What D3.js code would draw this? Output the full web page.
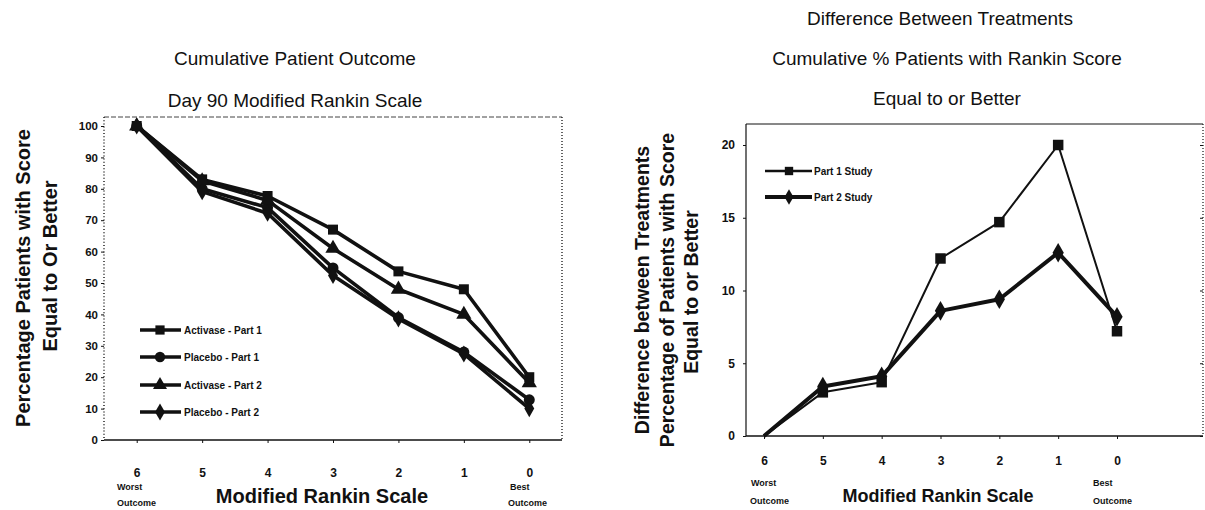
<!DOCTYPE html>
<html>
<head>
<meta charset="utf-8">
<script src="https://cdnjs.cloudflare.com/ajax/libs/d3/7.8.5/d3.min.js"></script>
<style>
body{margin:0;background:#fff}
svg{font-family:"Liberation Sans",Arial,sans-serif}
</style>
</head>
<body>
<div id="chart"></div>
<script>
// values
var scores = [6,5,4,3,2,1,0]
var activase1 = [100, 83, 77.7, 67, 53.7, 48, 20]
var placebo1  = [100, 80, 74, 54.8, 39, 28, 12.8]
var activase2 = [100, 82.5, 76.3, 61, 48, 40, 18.2]
var placebo2  = [100, 79.1, 72.2, 52.4, 38.6, 27.4, 10]
var part1Diff = [0, 3.0, 3.7, 12.2, 14.7, 20.0, 7.2]
var part2Diff = [0, 3.4, 4.1, 8.6, 9.4, 12.6, 8.2]
var leftTicks = [0,10,20,30,40,50,60,70,80,90,100]
var rightTicks = [0,5,10,15,20]
var leftNames = ["Activase - Part 1","Placebo - Part 1","Activase - Part 2","Placebo - Part 2"]
var rightNames = ["Part 1 Study","Part 2 Study"]

var ink = "#111"
var svg = d3.select("#chart").append("svg")
    .attr("width", 1205)
    .attr("height", 510)

function label(txt, x, y, size, weight, anchor, rot){
  var t = svg.append("text")
    .text(txt)
    .attr("font-size", size)
    .attr("font-weight", weight)
    .attr("text-anchor", anchor || "middle")
    .attr("fill", ink)
  if(rot){
    t.attr("transform", "translate("+x+","+y+") rotate(-90)")
  } else {
    t.attr("x", x).attr("y", y)
  }
  return t
}

function drawSeries(x, y, vals, sym, symSize, lw, skipZero){
  var pts = scores.map(function(s,i){ return [s, vals[i]] })
  var line = d3.line()
    .x(function(d){ return x(d[0]) })
    .y(function(d){ return y(d[1]) })
  svg.append("path")
    .datum(pts)
    .attr("d", line)
    .attr("fill", "none")
    .attr("stroke", ink)
    .attr("stroke-width", lw)
    .attr("stroke-linejoin", "round")
  svg.append("g").selectAll("path")
    .data(pts.filter(function(d){ return !(skipZero && d[1]==0) }))
    .enter()
    .append("path")
    .attr("d", d3.symbol().type(sym).size(symSize))
    .attr("transform", function(d){ return "translate("+x(d[0])+","+y(d[1])+")" })
    .attr("fill", ink)
}

drawLeft()
drawRight()

function drawLeft(){
  var box = {left:104, right:562, top:117, bottom:440}
  var x = d3.scalePoint().domain(scores).range([box.left, box.right]).padding(0.5)
  var y = d3.scaleLinear().domain([0,100]).range([box.bottom, 126])

  // frame: dotted left/right, faint top, solid bottom
  svg.append("line").attr("x1",box.left).attr("x2",box.right).attr("y1",box.top).attr("y2",box.top)
    .attr("stroke","#444").attr("stroke-width",1).attr("stroke-dasharray","5,2")
  svg.append("line").attr("x1",box.right).attr("x2",box.right).attr("y1",box.top).attr("y2",box.bottom)
    .attr("stroke",ink).attr("stroke-width",1.3).attr("stroke-dasharray","1,2")
  svg.append("line").attr("x1",box.left).attr("x2",box.left).attr("y1",box.top).attr("y2",box.bottom)
    .attr("stroke",ink).attr("stroke-width",1.4).attr("stroke-dasharray","1,2.2")
  svg.append("line").attr("x1",box.left).attr("x2",box.right).attr("y1",box.bottom).attr("y2",box.bottom)
    .attr("stroke",ink).attr("stroke-width",1.6)

  svg.append("g")
    .attr("transform","translate("+box.left+",0)")
    .call(d3.axisLeft(y).tickValues(leftTicks).tickSize(3).tickSizeOuter(0).tickPadding(3))
    .call(function(g){ g.select(".domain").remove() })
    .style("font-size","11.5px").style("font-weight",700)

  svg.append("g")
    .attr("transform","translate(0,"+box.bottom+")")
    .call(d3.axisBottom(x).tickSize(3).tickSizeOuter(0).tickPadding(25))
    .call(function(g){ g.select(".domain").remove() })
    .style("font-size","12px").style("font-weight",700)

  svg.selectAll(".tick text").attr("fill",ink).style("font-family","'Liberation Sans',Arial,sans-serif")
  svg.selectAll(".tick line").attr("stroke",ink)

  drawSeries(x, y, activase1, d3.symbolSquare, 100, 3.6)
  drawSeries(x, y, placebo1, d3.symbolCircle, 95, 3.6)
  drawSeries(x, y, activase2, d3.symbolTriangle, 100, 3.6)
  drawSeries(x, y, placebo2, d3.symbolDiamond, 85, 3.6)

  // legend
  var syms = [d3.symbolSquare, d3.symbolCircle, d3.symbolTriangle, d3.symbolDiamond]
  var ly = [330, 357, 385, 412]
  for(var i=0; i<leftNames.length; i++){
    svg.append("line").attr("x1",140).attr("x2",181).attr("y1",ly[i]).attr("y2",ly[i])
      .attr("stroke",ink).attr("stroke-width",3.4)
    svg.append("path").attr("d", d3.symbol().type(syms[i]).size(85)())
      .attr("transform","translate(160,"+ly[i]+")").attr("fill",ink)
    label(leftNames[i], 184, ly[i]+4, 10, 700, "start")
  }

  label("Cumulative Patient Outcome", 295, 65, 19, 400)
  label("Day 90 Modified Rankin Scale", 295, 107, 19, 400)
  label("Percentage Patients with Score", 30, 278, 20, 700, "middle", true)
  label("Equal to Or Better", 57, 266, 20, 700, "middle", true)
  label("Modified Rankin Scale", 322, 503, 20, 700)
  label("Worst", 117, 490, 9, 700, "start")
  label("Outcome", 117, 506, 9, 700, "start")
  label("Best", 510, 490, 9, 700, "start")
  label("Outcome", 508, 506, 9, 700, "start")
}

function drawRight(){
  var box = {left:746, right:1203, top:124, bottom:436}
  var x = d3.scalePoint().domain(scores).range([764, 1117])
  var y = d3.scaleLinear().domain([0,20]).range([box.bottom, 145])

  svg.append("line").attr("x1",box.left).attr("x2",box.right).attr("y1",box.top).attr("y2",box.top)
    .attr("stroke",ink).attr("stroke-width",1)
  svg.append("line").attr("x1",box.right).attr("x2",box.right).attr("y1",box.top).attr("y2",box.bottom)
    .attr("stroke",ink).attr("stroke-width",1.2).attr("stroke-dasharray","1,2")
  svg.append("line").attr("x1",box.left).attr("x2",box.left).attr("y1",box.top).attr("y2",box.bottom)
    .attr("stroke",ink).attr("stroke-width",1.2)
  svg.append("line").attr("x1",box.left).attr("x2",box.right).attr("y1",box.bottom).attr("y2",box.bottom)
    .attr("stroke",ink).attr("stroke-width",1.5)

  svg.append("g")
    .attr("transform","translate("+box.left+",0)")
    .call(d3.axisLeft(y).tickValues(rightTicks).tickSize(3).tickSizeOuter(0).tickPadding(8))
    .call(function(g){ g.select(".domain").remove() })
    .style("font-size","12px").style("font-weight",700)

  // small ticks on the dotted right edge
  svg.append("g")
    .attr("transform","translate("+box.right+",0)")
    .call(d3.axisRight(y).tickValues(rightTicks).tickSize(-3).tickSizeOuter(0).tickFormat(""))
    .call(function(g){ g.select(".domain").remove() })

  svg.append("g")
    .attr("transform","translate(0,"+box.bottom+")")
    .call(d3.axisBottom(x).tickSize(3).tickSizeOuter(0).tickPadding(17))
    .call(function(g){ g.select(".domain").remove() })
    .style("font-size","12px").style("font-weight",700)

  svg.selectAll(".tick text").attr("fill",ink).style("font-family","'Liberation Sans',Arial,sans-serif")
  svg.selectAll(".tick line").attr("stroke",ink)

  drawSeries(x, y, part1Diff, d3.symbolSquare, 110, 2, true)
  drawSeries(x, y, part2Diff, d3.symbolDiamond, 110, 4, true)

  var syms = [d3.symbolSquare, d3.symbolDiamond]
  var lw = [2.4, 4]
  var ly = [171, 197]
  for(var i=0; i<rightNames.length; i++){
    svg.append("line").attr("x1",765).attr("x2",812).attr("y1",ly[i]).attr("y2",ly[i])
      .attr("stroke",ink).attr("stroke-width",lw[i])
    svg.append("path").attr("d", d3.symbol().type(syms[i]).size(70)())
      .attr("transform","translate(789,"+ly[i]+")").attr("fill",ink)
    label(rightNames[i], 814, ly[i]+4, 10, 700, "start")
  }

  label("Difference Between Treatments", 940, 25, 19, 400)
  label("Cumulative % Patients with Rankin Score", 947, 65, 19, 400)
  label("Equal to or Better", 947, 105, 19, 400)
  label("Difference between Treatments", 649, 290, 19.5, 700, "middle", true)
  label("Percentage of Patients with Score", 674, 290, 19.5, 700, "middle", true)
  label("Equal to or Better", 698, 292, 19.5, 700, "middle", true)
  label("Modified Rankin Scale", 938, 502, 18, 700)
  label("Worst", 751, 486, 9, 700, "start")
  label("Outcome", 750, 504, 9, 700, "start")
  label("Best", 1093, 486, 9, 700, "start")
  label("Outcome", 1093, 504, 9, 700, "start")
}
</script>
</body>
</html>
